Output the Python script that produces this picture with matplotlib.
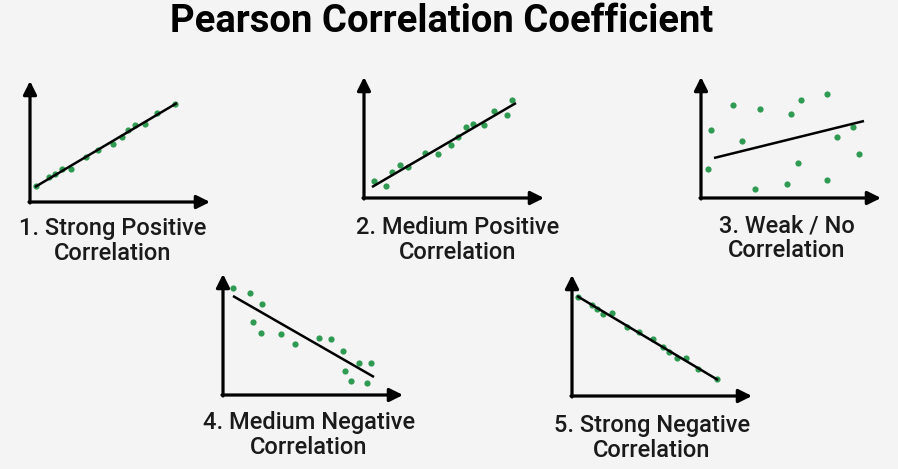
"""
Pearson correlation coefficient - five small scatter sketches.
"""
import matplotlib
matplotlib.use('Agg')
import matplotlib.pyplot as plt

BG = '#f4f4f4'
DOT = '#2f9a52'

TITLE = 'Pearson Correlation Coefficient'
LABELS = [
    '1. Strong Positive\nCorrelation',
    '2. Medium Positive\nCorrelation',
    '3. Weak / No\nCorrelation',
    '4. Medium Negative\nCorrelation',
    '5. Strong Negative\nCorrelation',
]

# points (arbitrary units, origin at the axes corner)
strong_pos_x = [6, 19, 25, 32, 41, 56, 68, 83, 92, 98, 105, 115, 127, 145]
strong_pos_y = [16, 25, 28, 33, 33, 45, 52, 58, 65, 72, 77, 78, 89, 98]
strong_pos_fit = [(5, 15), (147, 99)]

medium_pos_x = [10, 22, 28, 36, 44, 61, 74, 87, 94, 102, 109, 120, 130, 143, 148]
medium_pos_y = [17, 12, 26, 33, 31, 45, 44, 53, 61, 71, 74, 73, 87, 83, 98]
medium_pos_fit = [(8, 11), (152, 95)]

weak_x = [10, 32, 7, 41, 59, 54, 86, 90, 97, 100, 126, 126, 136, 152, 158]
weak_y = [68, 93, 29, 57, 89, 9, 14, 84, 35, 98, 104, 18, 61, 71, 44]
weak_fit = [(13, 40), (163, 77)]

medium_neg_x = [10, 27, 39, 30, 38, 58, 72, 96, 108, 120, 136, 148, 122, 128, 144]
medium_neg_y = [107, 102, 91, 73, 62, 61, 51, 57, 56, 44, 32, 32, 24, 14, 12]
medium_neg_fit = [(10, 99), (151, 18)]

strong_neg_x = [6, 20, 25, 31, 40, 55, 67, 81, 91, 97, 105, 114, 126, 145]
strong_neg_y = [99, 91, 87, 82, 83, 69, 64, 57, 49, 44, 38, 38, 27, 17]
strong_neg_fit = [(5, 100), (146, 16)]

X_LEN, Y_LEN = 180, 121

# pixel position of each panel's origin and label centre (layout)
W, H = 898, 469
origins = [(30, 202), (364, 198), (701, 198), (223, 395), (572, 396)]
label_pos = [(113, 241), (458, 240), (787, 238), (309, 435), (652, 438)]

plt.rcParams['font.family'] = ['Roboto', 'DejaVu Sans']

fig = plt.figure(figsize=(W / 100, H / 100), dpi=100, facecolor=BG)

panels = [
    (strong_pos_x, strong_pos_y, strong_pos_fit),
    (medium_pos_x, medium_pos_y, medium_pos_fit),
    (weak_x, weak_y, weak_fit),
    (medium_neg_x, medium_neg_y, medium_neg_fit),
    (strong_neg_x, strong_neg_y, strong_neg_fit),
]

for (xs, ys, fit), (ox, oy), (lx, ly), label in zip(panels, origins, label_pos, LABELS):
    ax = fig.add_axes([ox / W, (H - oy) / H, X_LEN / W, Y_LEN / H])
    ax.set_xlim(0, X_LEN)
    ax.set_ylim(0, Y_LEN)
    ax.axis('off')

    ax.scatter(xs, ys, s=20, color=DOT, zorder=2, linewidths=0)
    (x0, y0), (x1, y1) = fit
    ax.plot([x0, x1], [y0, y1], color='black', lw=1.8, zorder=3,
            solid_capstyle='butt')

    # axis arrows
    arrow = dict(arrowstyle='-|>', lw=2.3, color='black',
                 mutation_scale=20, shrinkA=0, shrinkB=0)
    ax.annotate('', xy=(X_LEN, 0), xytext=(-1, 0), arrowprops=arrow,
                annotation_clip=False)
    ax.annotate('', xy=(0, Y_LEN), xytext=(0, -1), arrowprops=arrow,
                annotation_clip=False)

    fig.text(lx / W, 1 - ly / H, label, ha='center', va='center',
             fontsize=17, fontweight='medium', color='#1a1a1a',
             linespacing=1.1)

fig.text(442 / W, 1 - 22 / H, TITLE, ha='center', va='center',
         fontsize=27.5, fontweight='bold', color='black')

fig.savefig('out.png', dpi=100, facecolor=BG)
